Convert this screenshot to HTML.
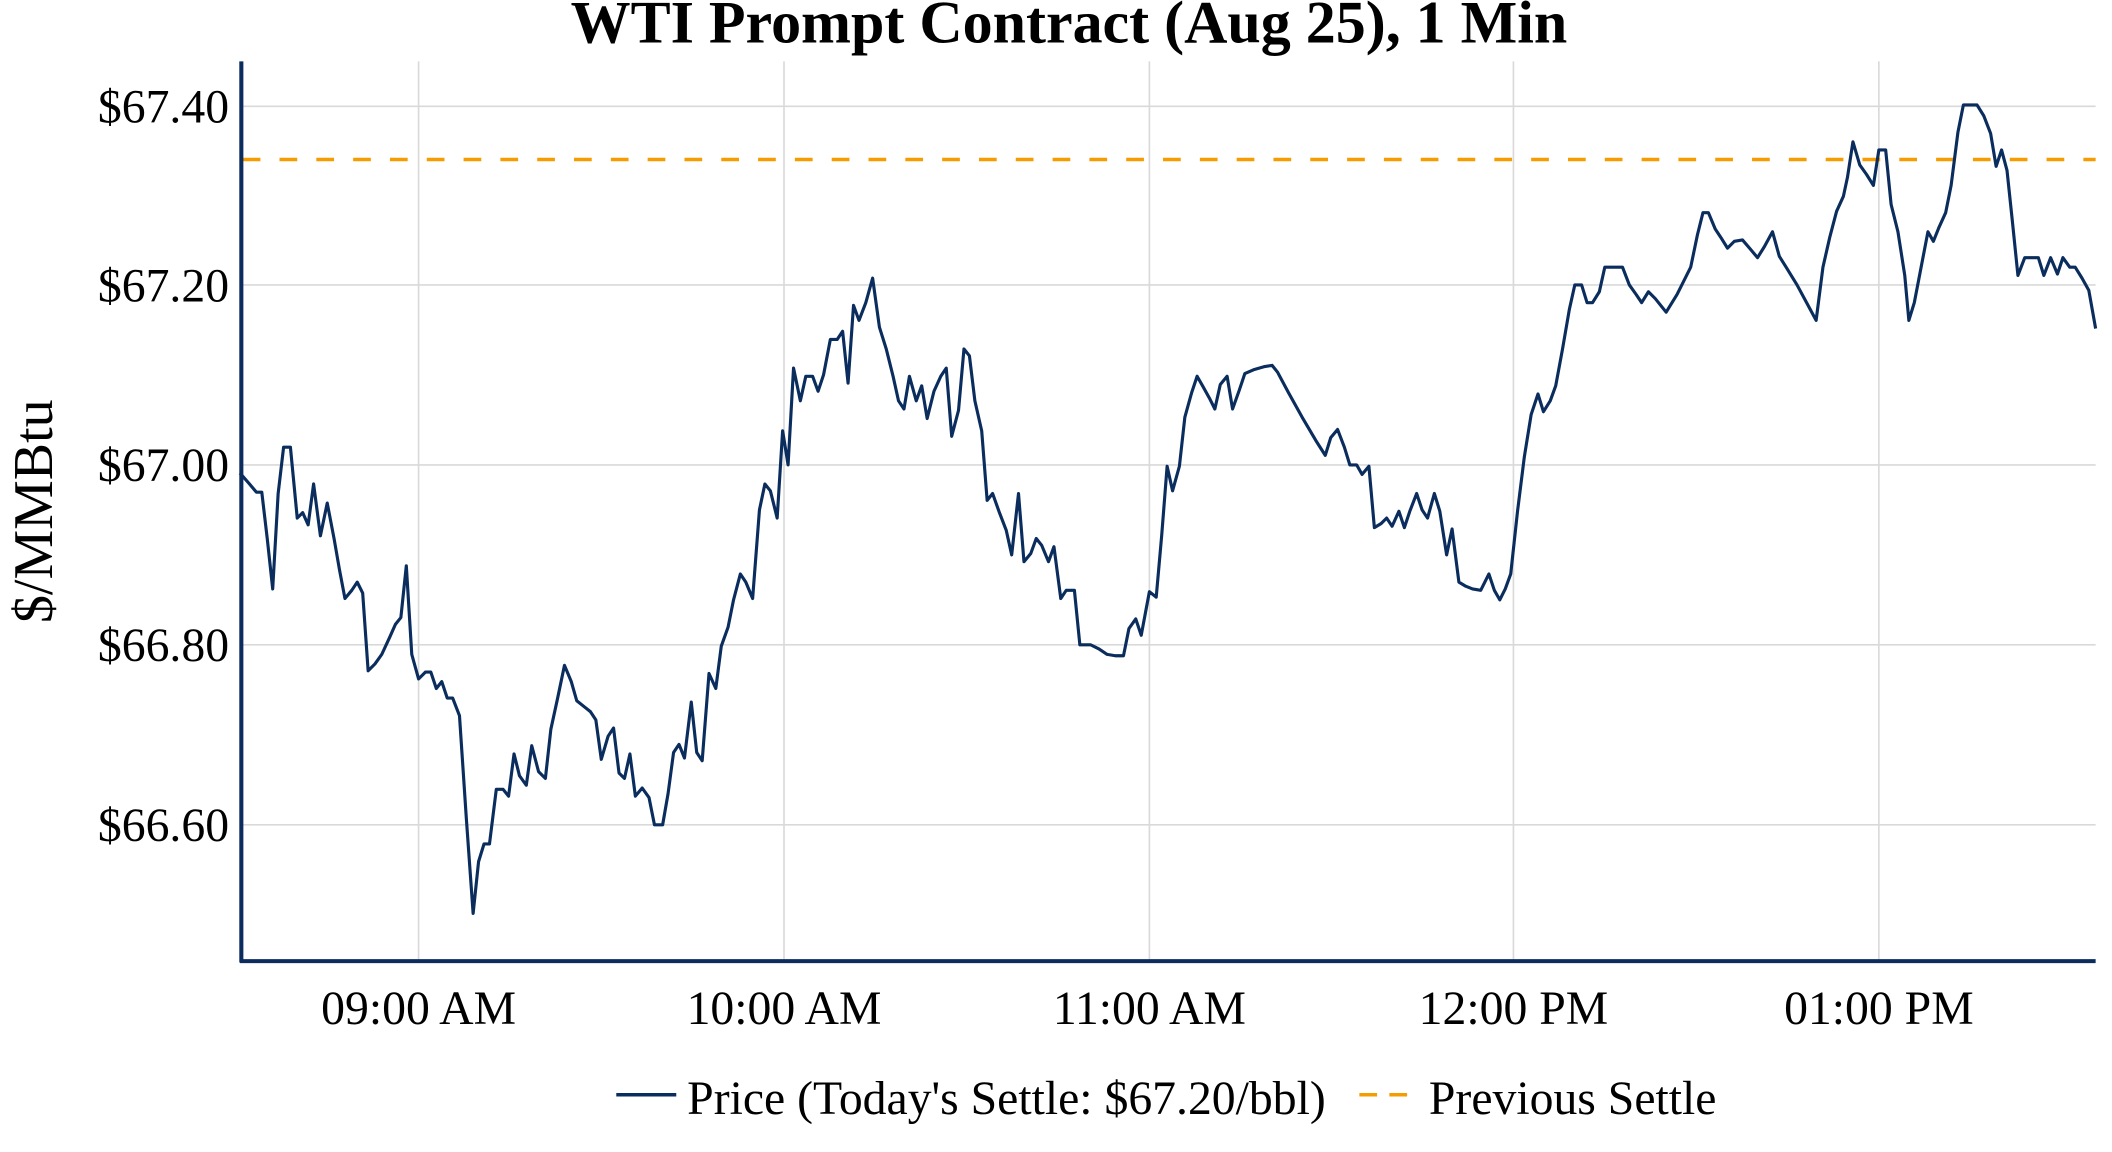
<!DOCTYPE html>
<html><head><meta charset="utf-8"><style>
html,body{margin:0;padding:0;background:#fff;}
svg{display:block;}
text{font-family:"Liberation Serif",serif;fill:#000;}
</style></head><body>
<svg width="2112" height="1152" viewBox="0 0 1549 845" preserveAspectRatio="none" xmlns="http://www.w3.org/2000/svg">
<rect width="1549" height="845" fill="#fff"/>
<g stroke="#d9d9d9" stroke-width="1.2">
<line x1="307" y1="45" x2="307" y2="705"/><line x1="575" y1="45" x2="575" y2="705"/><line x1="843" y1="45" x2="843" y2="705"/><line x1="1110" y1="45" x2="1110" y2="705"/><line x1="1378" y1="45" x2="1378" y2="705"/>
<line x1="176" y1="78" x2="1537" y2="78"/><line x1="176" y1="209" x2="1537" y2="209"/><line x1="176" y1="341" x2="1537" y2="341"/><line x1="176" y1="473" x2="1537" y2="473"/><line x1="176" y1="605" x2="1537" y2="605"/>
</g>
<line x1="178" y1="117" x2="1537" y2="117" stroke="#f59c00" stroke-width="2.5" stroke-dasharray="13,14"/>
<polyline fill="none" stroke="#0a2d5e" stroke-width="2.3" stroke-linejoin="round" points="176,347 183,355 188,361 192,361 196,395 200,432 204,362 208,328 213,328 218,380 222,376 226,385 230,355 235,393 240,369 245,395 249,418 253,439 258,433 262,427 266,435 270,492 275,487 280,480 286,467 290,458 294,453 298,415 302,480 307,498 312,493 316,493 320,505 324,500 328,512 332,512 337,525 342,600 347,670 351,632 355,619 359,619 364,579 369,579 373,584 377,553 381,569 386,576 390,547 395,566 400,571 404,535 409,512 414,488 419,500 423,514 428,518 433,522 437,528 441,557 446,540 450,534 454,567 458,571 462,553 466,584 471,578 476,585 480,605 486,605 490,582 494,552 498,546 502,556 507,515 511,552 515,558 520,494 525,505 529,474 534,460 538,440 543,421 547,427 552,439 557,374 561,355 565,360 570,380 574,316 578,341 582,270 587,294 591,276 596,276 600,287 604,275 609,249 614,249 618,243 622,281 626,224 630,235 635,222 640,204 645,240 650,256 655,276 659,294 663,300 667,276 672,294 676,283 680,307 685,287 690,276 694,270 698,320 703,301 707,256 711,261 715,294 720,316 724,367 728,362 733,376 738,389 742,407 747,362 751,412 756,406 760,395 764,400 769,412 773,401 778,439 782,433 788,433 792,473 800,473 806,476 812,480 818,481 824,481 828,461 833,454 837,466 843,434 848,438 852,393 856,342 860,360 865,342 869,306 874,288 878,276 882,283 887,292 891,300 895,282 900,276 904,300 909,286 913,274 920,271 927,269 933,268 937,273 945,288 955,306 965,323 972,334 976,321 981,315 986,328 990,341 995,341 999,348 1004,342 1008,387 1013,384 1017,380 1021,386 1026,375 1030,387 1034,375 1039,362 1043,374 1047,380 1052,362 1056,375 1061,407 1065,388 1070,427 1075,430 1080,432 1086,433 1092,421 1096,433 1100,440 1104,432 1108,421 1113,375 1118,335 1123,304 1128,289 1132,302 1137,294 1141,283 1146,256 1151,227 1155,209 1160,209 1164,222 1168,222 1173,214 1177,196 1182,196 1190,196 1195,209 1200,216 1204,222 1209,214 1214,219 1222,229 1230,216 1235,206 1240,196 1245,172 1249,156 1253,156 1258,168 1262,174 1267,182 1272,177 1278,176 1284,183 1289,189 1294,181 1300,170 1305,188 1310,196 1318,209 1325,222 1332,235 1337,196 1342,174 1347,155 1352,144 1355,130 1359,104 1364,121 1369,128 1374,136 1378,110 1383,110 1387,150 1392,170 1397,202 1400,235 1404,222 1409,196 1414,170 1418,177 1422,167 1427,156 1431,136 1436,97 1440,77 1446,77 1450,77 1455,85 1460,98 1464,122 1468,110 1472,125 1476,163 1480,202 1485,189 1490,189 1495,189 1499,202 1504,189 1509,201 1513,189 1518,196 1522,196 1527,204 1532,213 1537,241"/>
<line x1="177" y1="45" x2="177" y2="706" stroke="#0a2d5e" stroke-width="3"/>
<line x1="176" y1="705" x2="1537" y2="705" stroke="#0a2d5e" stroke-width="3"/>
<g font-size="35" text-anchor="end">
<text x="168" y="90">$67.40</text><text x="168" y="221">$67.20</text><text x="168" y="353">$67.00</text><text x="168" y="485">$66.80</text><text x="168" y="617">$66.60</text>
</g>
<g font-size="35" text-anchor="middle">
<text x="307" y="751">09:00 AM</text><text x="575" y="751">10:00 AM</text><text x="843" y="751">11:00 AM</text><text x="1110" y="751">12:00 PM</text><text x="1378" y="751">01:00 PM</text>
</g>
<text x="784" y="31" font-size="44" font-weight="bold" text-anchor="middle">WTI Prompt Contract (Aug 25), 1 Min</text>
<text transform="translate(38,375) rotate(-90)" font-size="41" text-anchor="middle">$/MMBtu</text>
<line x1="452" y1="803" x2="496" y2="803" stroke="#0a2d5e" stroke-width="2.5"/>
<text x="504" y="817" font-size="35">Price (Today's Settle: $67.20/bbl)</text>
<line x1="997" y1="803" x2="1040" y2="803" stroke="#f59c00" stroke-width="2.5" stroke-dasharray="13,9"/>
<text x="1048" y="817" font-size="35">Previous Settle</text>
</svg>
</body></html>
